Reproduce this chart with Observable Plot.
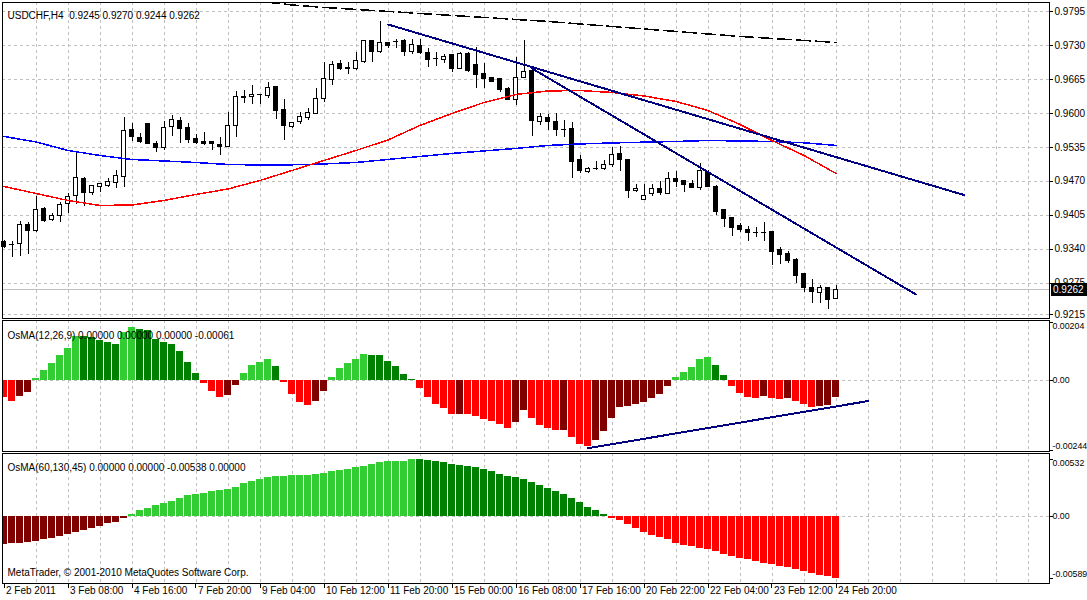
<!DOCTYPE html>
<html><head><meta charset="utf-8">
<script src="https://cdn.jsdelivr.net/npm/d3@7"></script>
<script src="https://cdn.jsdelivr.net/npm/@observablehq/plot@0.6"></script>
<style>
html,body{margin:0;padding:0;background:#fff;overflow:hidden;}
#chart{position:relative;width:1087px;height:600px;background:#fff;}
#chart svg{position:absolute;left:0;shape-rendering:crispEdges;}
</style></head><body><div id="chart"></div>
<script>
// ---------- data ----------
const headerText = "USDCHF,H4 \u00a00.9245 0.9270 0.9244 0.9262";
const osma1Label = "OsMA(12,26,9) 0.00000 0.00000 0.00000 -0.00061";
const osma2Label = "OsMA(60,130,45) 0.00000 0.00000 -0.00538 0.00000";
const copyright = "MetaTrader, \u00a9 2001-2010 MetaQuotes Software Corp.";

const xTickBars = [0, 8, 16, 24, 32, 40, 48, 56, 64, 72, 80, 88, 96, 104];
const xTickLabels = ["2 Feb 2011", "3 Feb 08:00", "4 Feb 16:00", "7 Feb 20:00", "9 Feb 04:00", "10 Feb 12:00",
  "11 Feb 20:00", "15 Feb 00:00", "16 Feb 08:00", "17 Feb 16:00", "20 Feb 22:00", "22 Feb 04:00", "23 Feb 12:00", "24 Feb 20:00"];
const gridBars = [4,8,12,16,20,24,28,32,36,40,44,48,52,56,60,64,68,72,76,80,84,88,92,96,100,104,108,112,116,120,124,128];

const priceTicks = [0.9795, 0.9730, 0.9665, 0.9600, 0.9535, 0.9470, 0.9405, 0.9340, 0.9275, 0.9215];
const osma1Ticks = [0.00204, 0, -0.00244];
const osma1TickLabels = ["0.00204", "0.00", "-0.00244"];
const osma2Ticks = [0.00532, 0, -0.00589];
const osma2TickLabels = ["0.00532", "0.00", "-0.00589"];

const open = [0.9353,0.9349,0.9350,0.9387,0.9375,0.9417,0.9396,0.9404,0.9426,0.9442,
0.9475,0.9448,0.9459,0.9461,0.9466,0.9479,0.9569,0.9553,0.9579,0.9542,
0.9533,0.9574,0.9586,0.9572,0.9550,0.9546,0.9545,0.9540,0.9536,0.9575,
0.9632,0.9631,0.9636,0.9633,0.9651,0.9606,0.9574,0.9583,0.9592,0.9599,
0.9628,0.9664,0.9694,0.9686,0.9685,0.9698,0.9738,0.9717,0.9735,0.9738,
0.9738,0.9717,0.9729,0.9716,0.9705,0.9703,0.9711,0.9685,0.9714,0.9692,
0.9676,0.9667,0.9665,0.9646,0.9625,0.9667,0.9682,0.9583,0.9591,0.9584,
0.9570,0.9570,0.9510,0.9487,0.9494,0.9493,0.9502,0.9523,0.9510,0.9451,
0.9435,0.9446,0.9456,0.9446,0.9475,0.9470,0.9464,0.9457,0.9486,0.9460,
0.9415,0.9399,0.9384,0.9376,0.9372,0.9372,0.9372,0.9338,0.9331,0.9320,
0.9292,0.9266,0.9256,0.9266,0.9245];
const high = [0.9357,0.9355,0.9393,0.9392,0.9440,0.9419,0.9408,0.9430,0.9447,0.9525,
0.9477,0.9462,0.9465,0.9475,0.9491,0.9593,0.9581,0.9561,0.9580,0.9547,
0.9584,0.9596,0.9593,0.9581,0.9559,0.9564,0.9546,0.9554,0.9602,0.9641,
0.9643,0.9653,0.9637,0.9660,0.9652,0.9626,0.9583,0.9602,0.9609,0.9647,
0.9698,0.9699,0.9701,0.9697,0.9716,0.9740,0.9739,0.9775,0.9736,0.9741,
0.9741,0.9741,0.9741,0.9725,0.9716,0.9712,0.9712,0.9717,0.9716,0.9727,
0.9695,0.9669,0.9666,0.9650,0.9706,0.9740,0.9685,0.9599,0.9597,0.9599,
0.9586,0.9583,0.9519,0.9497,0.9507,0.9510,0.9535,0.9537,0.9511,0.9464,
0.9464,0.9464,0.9470,0.9486,0.9489,0.9471,0.9472,0.9504,0.9491,0.9461,
0.9416,0.9400,0.9389,0.9384,0.9381,0.9391,0.9373,0.9344,0.9336,0.9322,
0.9293,0.9283,0.9271,0.9267,0.9270];
const low = [0.9341,0.9325,0.9327,0.9329,0.9372,0.9392,0.9394,0.9392,0.9409,0.9425,
0.9422,0.9443,0.9449,0.9458,0.9456,0.9459,0.9547,0.9543,0.9540,0.9526,
0.9529,0.9556,0.9542,0.9542,0.9540,0.9539,0.9528,0.9520,0.9535,0.9554,
0.9618,0.9617,0.9617,0.9628,0.9588,0.9548,0.9571,0.9578,0.9586,0.9597,
0.9620,0.9653,0.9682,0.9674,0.9682,0.9696,0.9698,0.9714,0.9724,0.9725,
0.9708,0.9712,0.9712,0.9688,0.9690,0.9695,0.9678,0.9684,0.9679,0.9648,
0.9648,0.9660,0.9639,0.9624,0.9615,0.9666,0.9555,0.9577,0.9567,0.9556,
0.9553,0.9475,0.9484,0.9484,0.9491,0.9491,0.9497,0.9489,0.9438,0.9449,
0.9433,0.9441,0.9443,0.9445,0.9458,0.9449,0.9457,0.9452,0.9458,0.9405,
0.9381,0.9365,0.9372,0.9354,0.9363,0.9354,0.9308,0.9310,0.9312,0.9274,
0.9258,0.9236,0.9236,0.9224,0.9244];
const close = [0.9345,0.9349,0.9387,0.9375,0.9415,0.9394,0.9403,0.9425,0.9440,0.9477,
0.9447,0.9461,0.9464,0.9468,0.9481,0.9567,0.9554,0.9545,0.9542,0.9533,
0.9572,0.9588,0.9570,0.9549,0.9544,0.9541,0.9542,0.9535,0.9575,0.9632,
0.9630,0.9636,0.9636,0.9649,0.9604,0.9575,0.9581,0.9594,0.9601,0.9628,
0.9666,0.9693,0.9684,0.9685,0.9701,0.9738,0.9717,0.9735,0.9729,0.9738,
0.9717,0.9731,0.9716,0.9703,0.9705,0.9708,0.9685,0.9714,0.9682,0.9674,
0.9665,0.9661,0.9644,0.9625,0.9667,0.9680,0.9585,0.9593,0.9583,0.9568,
0.9570,0.9507,0.9489,0.9493,0.9494,0.9502,0.9521,0.9510,0.9452,0.9456,
0.9441,0.9456,0.9447,0.9475,0.9468,0.9462,0.9458,0.9489,0.9459,0.9411,
0.9397,0.9380,0.9376,0.9371,0.9372,0.9372,0.9334,0.9329,0.9318,0.9288,
0.9265,0.9258,0.9266,0.9242,0.9262];

const maBars = [0,4,8,12,16,20,24,28,32,36,40,44,48,52,56,60,64,68,72,76,80,84,88,92,96,100,104];
const maBlue = [0.95558,0.95453,0.95290,0.95194,0.95118,0.95089,0.95060,0.95022,0.95012,0.95016,
0.95032,0.95060,0.95118,0.95175,0.95233,0.95281,0.95329,0.95386,0.95415,0.95434,
0.95449,0.95462,0.95481,0.95472,0.95462,0.95437,0.95386];
const maRed = [0.94601,0.94467,0.94333,0.94237,0.94247,0.94333,0.94448,0.94553,0.94716,0.94907,
0.95098,0.95290,0.95491,0.95769,0.95998,0.96209,0.96362,0.96429,0.96438,0.96400,
0.96333,0.96228,0.96055,0.95788,0.95481,0.95194,0.94850];
const maSlowBars = [28,32,36,40,44,48,52,56,60,64,68,72,76,80,84,88,92,96,100,104];
const maSlow = [0.98199,0.98142,0.98075,0.98027,0.97989,0.97951,0.97912,0.97874,0.97836,0.97797,
0.97759,0.97711,0.97663,0.97616,0.97568,0.97520,0.97472,0.97434,0.97396,0.97358];

const trendABars = [48, 120], trendAPrices = [0.97702, 0.94438];
const trendBBars = [66, 114], trendBPrices = [0.96860, 0.92534];
const trendCBars = [73, 108], trendCValues = [-0.00237, -0.00072];

const osma1 = [-0.00058,-0.00072,-0.00055,-0.00041,0.00007,0.00035,0.00060,0.00089,0.00112,0.00154,
0.00153,0.00152,0.00140,0.00133,0.00126,0.00167,0.00187,0.00180,0.00175,0.00144,
0.00133,0.00126,0.00102,0.00063,0.00026,-0.00009,-0.00037,-0.00058,-0.00051,-0.00016,
0.00026,0.00054,0.00063,0.00074,0.00049,-0.00006,-0.00048,-0.00076,-0.00086,-0.00072,
-0.00037,0.00011,0.00042,0.00060,0.00074,0.00091,0.00088,0.00087,0.00067,0.00049,
0.00021,0.00002,-0.00027,-0.00058,-0.00084,-0.00097,-0.00119,-0.00118,-0.00120,-0.00126,
-0.00137,-0.00144,-0.00154,-0.00168,-0.00147,-0.00105,-0.00133,-0.00158,-0.00168,-0.00175,
-0.00174,-0.00200,-0.00224,-0.00231,-0.00210,-0.00179,-0.00133,-0.00095,-0.00091,-0.00084,
-0.00077,-0.00063,-0.00049,-0.00021,0.00011,0.00028,0.00046,0.00074,0.00081,0.00053,
0.00018,-0.00020,-0.00046,-0.00060,-0.00063,-0.00056,-0.00063,-0.00067,-0.00062,-0.00074,
-0.00084,-0.00095,-0.00091,-0.00088,-0.00061];
const osma2 = [-0.00264,-0.00262,-0.00258,-0.00254,-0.00239,-0.00223,-0.00210,-0.00194,-0.00178,-0.00156,
-0.00134,-0.00118,-0.00099,-0.00073,-0.00060,-0.00025,0.00016,0.00048,0.00070,0.00095,
0.00118,0.00140,0.00169,0.00191,0.00207,0.00216,0.00229,0.00242,0.00254,0.00270,
0.00302,0.00324,0.00343,0.00359,0.00372,0.00375,0.00382,0.00383,0.00384,0.00391,
0.00404,0.00417,0.00429,0.00439,0.00455,0.00471,0.00483,0.00502,0.00509,0.00510,
0.00518,0.00532,0.00530,0.00524,0.00510,0.00504,0.00488,0.00478,0.00469,0.00459,
0.00440,0.00418,0.00393,0.00374,0.00364,0.00342,0.00313,0.00288,0.00256,0.00231,
0.00199,0.00167,0.00129,0.00081,0.00049,0.00011,-0.00024,-0.00046,-0.00084,-0.00119,
-0.00157,-0.00180,-0.00199,-0.00221,-0.00256,-0.00278,-0.00291,-0.00304,-0.00316,-0.00336,
-0.00358,-0.00380,-0.00396,-0.00409,-0.00431,-0.00444,-0.00460,-0.00475,-0.00485,-0.00504,
-0.00523,-0.00545,-0.00558,-0.00574,-0.00589];

// ---------- derived tables ----------
const FONT = '"Liberation Sans", Arial, sans-serif';
const FS = 10;
const GRID = "#c0c0c0";
const style = {fontFamily: FONT, fontSize: FS + "px", color: "#000", background: "transparent", overflow: "hidden"};
const xDomain = [-0.1875, 130.6875];
const dims = {width: 1087, marginLeft: 2, marginRight: 38};

const candles = open.map((o, i) => ({i, o, h: high[i], l: low[i], c: close[i]}));
const bodies = candles.filter(d => d.o !== d.c);
const dojis = candles.filter(d => d.o === d.c);
const pts = (bars, vals) => bars.map((b, k) => ({b, v: vals[k]}));
const lastClose = close[close.length - 1];

function osmaRows(vals) {
  return vals.map((v, i) => {
    const rising = i > 0 ? v >= vals[i - 1] : vals[1] >= vals[0];
    const color = v > 0 ? (rising ? "#32cd32" : "#008000") : (rising ? "#800000" : "#ff0000");
    return {i, v, color};
  });
}

const gridX = Plot.ruleX(gridBars, {stroke: GRID, strokeDasharray: "3,3"});

// short tick marks in the right margin, positioned by the panel's y scale
function rightTicks(values) {
  return (index, scales, channels, d) => {
    const g = d3.create("svg:g").attr("stroke", "#000");
    const x0 = d.width - d.marginRight;
    for (const t of values) {
      const y = Math.round(scales.y(t)) + 0.5;
      g.append("line").attr("x1", x0).attr("x2", x0 + 4).attr("y1", y).attr("y2", y);
    }
    return g.node();
  };
}

// tick marks below the time axis, positioned by the x scale
function bottomTicks(values) {
  return (index, scales, channels, d) => {
    const g = d3.create("svg:g").attr("stroke", "#000");
    const y0 = d.height - d.marginBottom;
    for (const b of values) {
      const x = Math.round(scales.x(b)) + 0.5;
      g.append("line").attr("x1", x).attr("x2", x).attr("y1", y0).attr("y2", y0 + 5);
    }
    return g.node();
  };
}

function rightLabels(ticks, labels) {
  const n = ticks.length;
  return ticks.map((t, k) => Plot.text([t], {
    y: d => d, text: () => labels[k], frameAnchor: "right", textAnchor: "start", dx: 3,
    dy: k === 0 ? 4 : (k === n - 1 ? -4 : 0), fill: "#000", fontSize: 8.8
  }));
}

function priceBox(price) {
  return (index, scales, channels, d) => {
    const y = scales.y(price);
    const g = d3.create("svg:g");
    g.append("rect").attr("x", d.width - d.marginRight + 2).attr("y", Math.round(y) - 6)
      .attr("width", d.marginRight).attr("height", 13).attr("fill", "#000");
    g.append("text").attr("x", d.width - d.marginRight + 4).attr("y", y).attr("dy", "0.35em")
      .attr("text-anchor", "start").attr("fill", "#fff")
      .attr("font-family", FONT).attr("font-size", FS).text(d3.format(".4f")(price));
    return g.node();
  };
}

// ---------- main price panel ----------
const main = Plot.plot({
  ...dims, height: 320, marginTop: 2, marginBottom: 2,
  x: {domain: xDomain, axis: null},
  y: {domain: [0.92074, 0.98122], axis: null},
  color: {type: "identity"},
  style,
  marks: [
    Plot.ruleY(priceTicks, {stroke: GRID, strokeDasharray: "3,3"}),
    gridX,
    Plot.ruleY([lastClose], {stroke: "#c0c0c0"}),
    Plot.ruleX(candles, {x: "i", y1: "l", y2: "h", stroke: "#000"}),
    Plot.rect(bodies, {x1: d => d.i - 0.25, x2: d => d.i + 0.25, y1: "o", y2: "c",
      fill: d => d.c > d.o ? "#ffffff" : "#000000", stroke: "#000"}),
    Plot.ruleY(dojis, {y: "c", x1: d => d.i - 0.3125, x2: d => d.i + 0.3125, stroke: "#000"}),
    Plot.line(pts(maSlowBars, maSlow), {x: "b", y: "v", stroke: "#000", strokeDasharray: "14,5", clip: true}),
    Plot.line(pts(maBars, maBlue), {x: "b", y: "v", stroke: "#0000ff"}),
    Plot.line(pts(maBars, maRed), {x: "b", y: "v", stroke: "#ff0000"}),
    Plot.line(pts(trendABars, trendAPrices), {x: "b", y: "v", stroke: "#000080", strokeWidth: 2, clip: true}),
    Plot.line(pts(trendBBars, trendBPrices), {x: "b", y: "v", stroke: "#000080", strokeWidth: 2, clip: true}),
    Plot.frame({stroke: "#000"}),
    rightTicks(priceTicks),
    Plot.text(priceTicks, {y: d => d, text: d => d3.format(".4f")(d), frameAnchor: "right", textAnchor: "start", dx: 5, fill: "#000"}),
    priceBox(lastClose),
    Plot.text([headerText], {text: d => d, frameAnchor: "top-left", dx: 5, dy: 9, textAnchor: "start", fill: "#000"})
  ]
});

// ---------- OsMA(12,26,9) ----------
const p1 = Plot.plot({
  ...dims, height: 133, marginTop: 1, marginBottom: 1,
  x: {domain: xDomain, axis: null},
  y: {domain: [-0.002485, 0.0021], axis: null},
  color: {type: "identity"},
  style,
  marks: [
    Plot.ruleY([0], {stroke: GRID, strokeDasharray: "3,3"}),
    gridX,
    Plot.rect(osmaRows(osma1), {x1: d => d.i - 0.4375, x2: d => d.i + 0.4375, y1: () => 0, y2: "v", fill: "color", clip: true}),
    Plot.line(pts(trendCBars, trendCValues), {x: "b", y: "v", stroke: "#000080", strokeWidth: 2}),
    Plot.frame({stroke: "#000"}),
    rightTicks(osma1Ticks),
    ...rightLabels(osma1Ticks, osma1TickLabels),
    Plot.text([osma1Label], {text: d => d, frameAnchor: "top-left", dx: 5, dy: 11, textAnchor: "start", fill: "#000"})
  ]
});

// ---------- OsMA(60,130,45) ----------
const p2 = Plot.plot({
  ...dims, height: 148, marginTop: 1, marginBottom: 17,
  x: {domain: xDomain, axis: null},
  y: {domain: [-0.006359, 0.005888], axis: null},
  color: {type: "identity"},
  style,
  marks: [
    Plot.ruleY([0], {stroke: GRID, strokeDasharray: "3,3"}),
    gridX,
    Plot.rect(osmaRows(osma2), {x1: d => d.i - 0.4375, x2: d => d.i + 0.4375, y1: () => 0, y2: "v", fill: "color", clip: true}),
    Plot.frame({stroke: "#000"}),
    bottomTicks(xTickBars),
    Plot.text(xTickBars, {x: d => d, text: (d, k) => xTickLabels[k], frameAnchor: "bottom", dx: 2, dy: 10, textAnchor: "start", fill: "#000"}),
    rightTicks(osma2Ticks),
    ...rightLabels(osma2Ticks, osma2TickLabels),
    Plot.text([osma2Label], {text: d => d, frameAnchor: "top-left", dx: 5, dy: 10, textAnchor: "start", fill: "#000"}),
    Plot.text([copyright], {text: d => d, frameAnchor: "bottom-left", dx: 5, dy: -8, textAnchor: "start", fill: "#000"})
  ]
});

const chart = document.getElementById("chart");
main.style.top = "0px"; p1.style.top = "319px"; p2.style.top = "452px";
chart.append(main, p1, p2);
</script>
</body></html>
